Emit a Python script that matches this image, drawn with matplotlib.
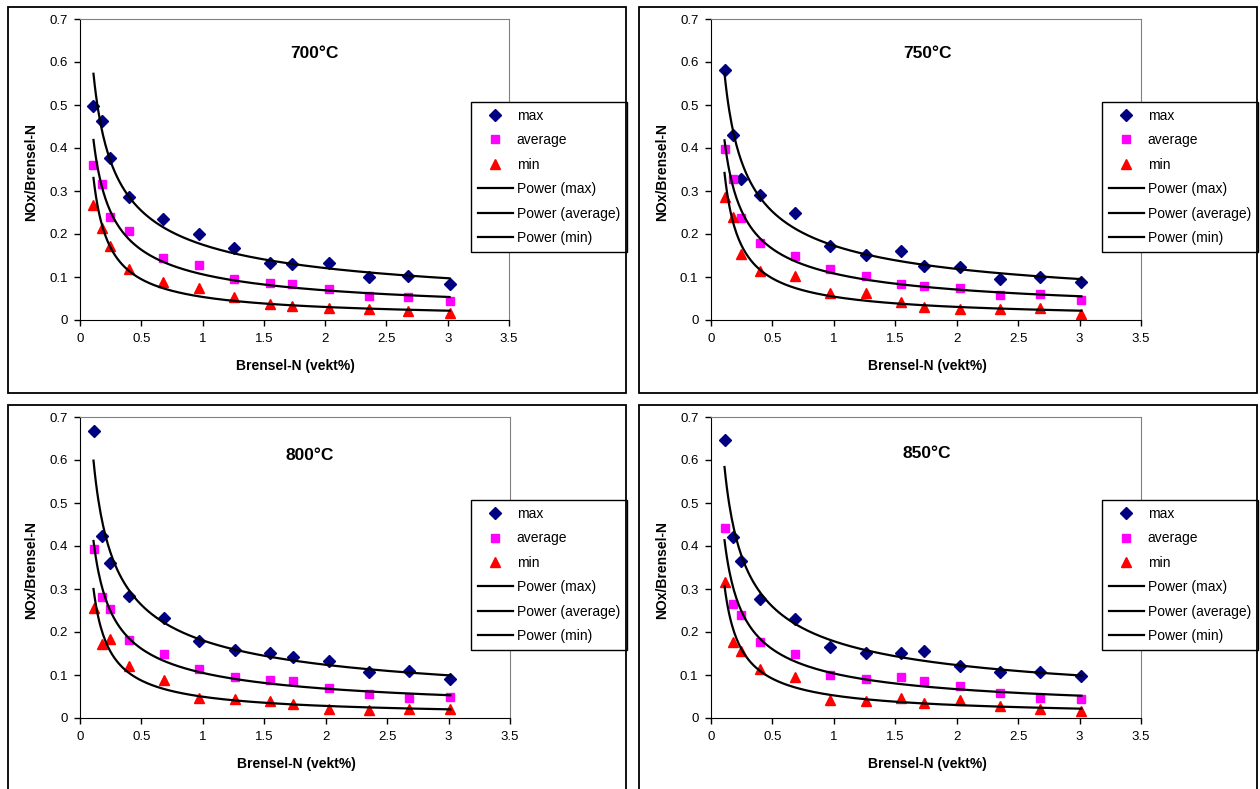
import numpy as np
import matplotlib.pyplot as plt
from matplotlib.patches import Rectangle

plt.rcParams['font.family'] = ['Liberation Sans', 'DejaVu Sans']

# fuel-N content (wt%), same for all panels
brensel_n = [0.11, 0.18, 0.245, 0.40, 0.68, 0.97, 1.26, 1.55, 1.73, 2.03, 2.355, 2.675, 3.015]

temps = ['700°C', '750°C', '800°C', '850°C']

max_700 = [0.497, 0.462, 0.376, 0.287, 0.235, 0.199, 0.167, 0.132, 0.130, 0.132, 0.101, 0.103, 0.084]
avg_700 = [0.360, 0.317, 0.239, 0.206, 0.145, 0.127, 0.095, 0.086, 0.083, 0.071, 0.056, 0.054, 0.044]
min_700 = [0.268, 0.213, 0.171, 0.118, 0.088, 0.075, 0.053, 0.037, 0.033, 0.029, 0.026, 0.021, 0.017]

max_750 = [0.581, 0.430, 0.327, 0.290, 0.250, 0.172, 0.152, 0.161, 0.126, 0.124, 0.095, 0.101, 0.088]
avg_750 = [0.398, 0.328, 0.237, 0.179, 0.149, 0.118, 0.102, 0.083, 0.080, 0.075, 0.059, 0.061, 0.047]
min_750 = [0.286, 0.239, 0.154, 0.113, 0.102, 0.062, 0.062, 0.043, 0.031, 0.025, 0.025, 0.029, 0.014]

max_800 = [0.668, 0.424, 0.361, 0.284, 0.232, 0.180, 0.157, 0.152, 0.141, 0.132, 0.106, 0.109, 0.091]
avg_800 = [0.392, 0.282, 0.253, 0.182, 0.148, 0.113, 0.096, 0.089, 0.085, 0.070, 0.055, 0.047, 0.050]
min_800 = [0.255, 0.171, 0.183, 0.120, 0.088, 0.046, 0.044, 0.040, 0.033, 0.022, 0.019, 0.022, 0.022]

max_850 = [0.646, 0.422, 0.364, 0.277, 0.230, 0.166, 0.152, 0.152, 0.155, 0.120, 0.106, 0.106, 0.097]
avg_850 = [0.443, 0.265, 0.239, 0.176, 0.148, 0.101, 0.090, 0.096, 0.087, 0.074, 0.057, 0.047, 0.044]
min_850 = [0.317, 0.177, 0.155, 0.113, 0.096, 0.043, 0.040, 0.046, 0.034, 0.041, 0.027, 0.020, 0.017]

series = [(max_700, avg_700, min_700), (max_750, avg_750, min_750),
          (max_800, avg_800, min_800), (max_850, avg_850, min_850)]

W, H = 1260, 789


def fig_rect(l, t, r, b):
    return [l / W, 1 - b / H, (r - l) / W, (b - t) / H]


# pixel layout: axes box, outer frame, legend top-left, title centre
panels = [
    dict(ax=(80, 19, 509, 320), frame=(8, 7, 626, 393), leg=(471, 102), title=(314, 53)),
    dict(ax=(711, 19, 1141, 320), frame=(639, 7, 1257, 393), leg=(1102, 102), title=(927, 53)),
    dict(ax=(80, 417, 510, 718), frame=(8, 405, 626, 800), leg=(471, 500), title=(310, 455)),
    dict(ax=(711, 417, 1141, 718), frame=(639, 405, 1257, 800), leg=(1102, 500), title=(927, 453)),
]

fig = plt.figure(figsize=(W / 100, H / 100), dpi=100)

x = np.array(brensel_n)
xs = np.linspace(x[0], x[-1], 300)

for p, temp, (ymax, yavg, ymin) in zip(panels, temps, series):
    l, t, r, b = p['frame']
    fig.patches.append(Rectangle((l / W, 1 - b / H), (r - l) / W, (b - t) / H,
                                 transform=fig.transFigure, fill=False,
                                 edgecolor='black', linewidth=1.3))

    ax = fig.add_axes(fig_rect(*p['ax']))
    ax.plot(x, ymax, 'D', color='#000080', markersize=6, label='max')
    ax.plot(x, yavg, 's', color='#FF00FF', markersize=6, label='average')
    ax.plot(x, ymin, '^', color='#FF0000', markersize=7, label='min')

    # Excel-style power trendlines fitted to the data
    for ys, name in [(ymax, 'max'), (yavg, 'average'), (ymin, 'min')]:
        bcoef, lna = np.polyfit(np.log(x), np.log(ys), 1)
        ax.plot(xs, np.exp(lna) * xs ** bcoef, color='black', linewidth=1.6,
                label=f'Power ({name})')

    ax.set_xlim(0, 3.5)
    ax.set_ylim(0, 0.7)
    ax.set_xticks(np.arange(0, 3.51, 0.5))
    ax.set_xticklabels(['0', '0.5', '1', '1.5', '2', '2.5', '3', '3.5'])
    ax.set_yticks(np.arange(0, 0.71, 0.1))
    ax.set_yticklabels(['0', '0.1', '0.2', '0.3', '0.4', '0.5', '0.6', '0.7'])
    ax.tick_params(direction='out', length=4, width=1, labelsize=9.5, pad=5)
    for s in ['top', 'right']:
        ax.spines[s].set_color('#808080')
    for s in ['left', 'bottom']:
        ax.spines[s].set_color('black')

    ax.set_xlabel('Brensel-N (vekt%)', fontsize=10, fontweight='bold', va='center')
    ax.xaxis.set_label_coords(0.503, -0.153)
    ax.set_ylabel('NOx/Brensel-N', fontsize=10, fontweight='bold', va='center')
    ax.yaxis.set_label_coords(-0.114, 0.49)

    tx, ty = p['title']
    fig.text(tx / W, 1 - ty / H, temp, fontsize=12.5, fontweight='bold',
             ha='center', va='center')

    lx, ly = p['leg']
    leg = ax.legend(loc='upper left', bbox_to_anchor=(lx / W, 1 - ly / H),
                    bbox_transform=fig.transFigure, fontsize=10,
                    frameon=True, fancybox=False, framealpha=1,
                    edgecolor='black', borderpad=0.5, labelspacing=0.75,
                    handlelength=2.5, handletextpad=0.3, borderaxespad=0)
    leg.get_frame().set_linewidth(1.0)

fig.savefig('out.png', dpi=100)
